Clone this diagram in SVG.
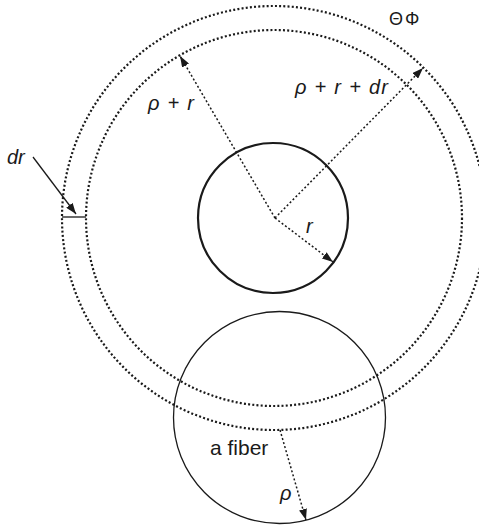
<svg xmlns="http://www.w3.org/2000/svg" width="479" height="528" viewBox="0 0 479 528">
  <style>
    .dotring { fill: none; stroke: #1a1a1a; stroke-width: 2.2; stroke-dasharray: 2 2.2; }
    .solid { fill: none; stroke: #1a1a1a; }
    .dotline { fill: none; stroke: #1a1a1a; stroke-width: 1.5; stroke-dasharray: 2 2.2; }
    .line { fill: none; stroke: #1a1a1a; stroke-width: 1.3; }
    .lbl { font-family: "Liberation Sans", Arial, sans-serif; fill: #1a1a1a; }
    .it { font-style: italic; }
  </style>
  <defs>
    <marker id="ah" viewBox="0 0 11 8" refX="11" refY="4" markerWidth="11" markerHeight="8" markerUnits="userSpaceOnUse" orient="auto">
      <path d="M0,0 L11,4 L0,8 z" fill="#1a1a1a"/>
    </marker>
  </defs>
  <rect width="479" height="528" fill="#ffffff"/>

  <g id="outer-shell">
    <circle class="dotring" cx="274" cy="218" r="212"/>
  </g>
  <g id="inner-shell">
    <circle class="dotring" cx="274" cy="218" r="188"/>
  </g>
  <g id="cell">
    <circle class="solid" cx="273" cy="218" r="75" stroke-width="2.2"/>
  </g>
  <g id="fiber">
    <circle class="solid" cx="279.5" cy="417.5" r="106" stroke-width="1.3"/>
  </g>

  <g id="connectors">
    <line class="dotline" x1="275" y1="218" x2="180" y2="56" marker-end="url(#ah)"/>
    <line class="dotline" x1="275" y1="218" x2="423" y2="68" marker-end="url(#ah)"/>
    <line class="dotline" x1="275" y1="218" x2="333" y2="262" marker-end="url(#ah)"/>
    <line class="dotline" x1="280" y1="430" x2="306" y2="520" marker-end="url(#ah)"/>
    <line class="line" x1="33" y1="157" x2="76" y2="214" marker-end="url(#ah)"/>
    <line class="line" x1="62" y1="217" x2="86" y2="217" stroke-width="1.5"/>
  </g>

  <g id="labels">
    <text class="lbl it" x="148" y="110" font-size="20" textLength="46">ρ + r</text>
    <text class="lbl it" x="295" y="94" font-size="20" textLength="93">ρ + r + dr</text>
    <text class="lbl it" x="7" y="164" font-size="20">dr</text>
    <text class="lbl it" x="306" y="233" font-size="20">r</text>
    <text class="lbl" x="210" y="455" font-size="21">a fiber</text>
    <text class="lbl it" x="280" y="500" font-size="20">ρ</text>
    <text class="lbl" x="389" y="25" font-size="18" letter-spacing="2">ΘΦ</text>
  </g>
</svg>
